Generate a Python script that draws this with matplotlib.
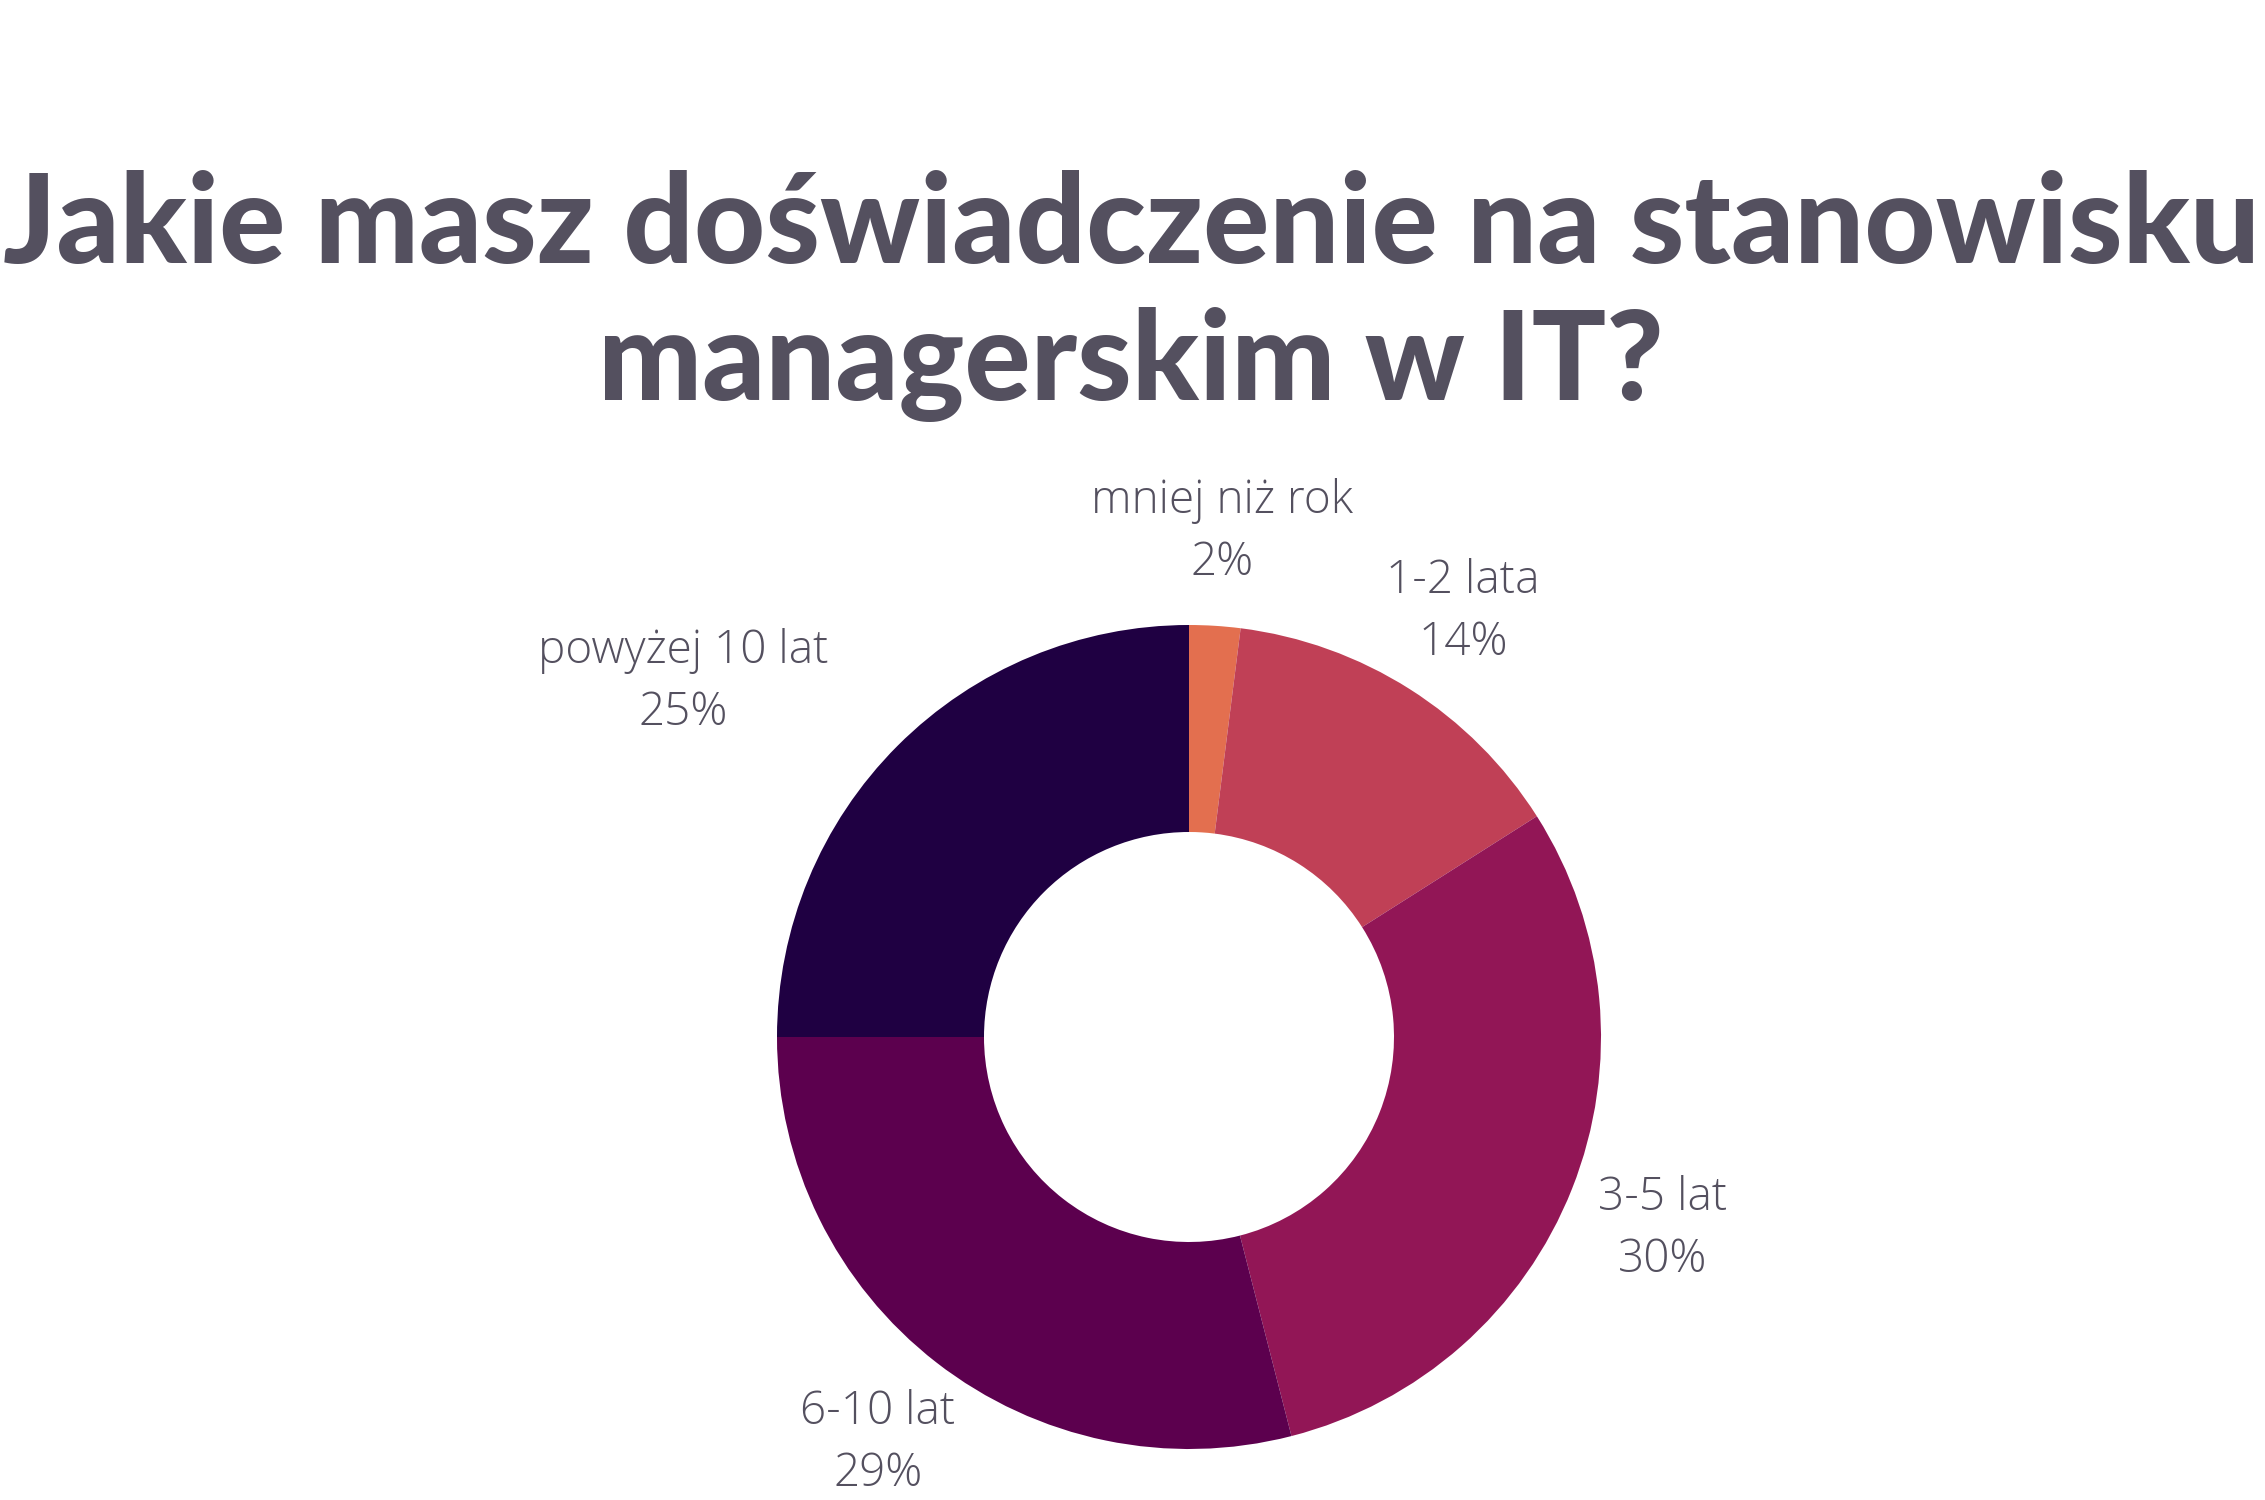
"""Donut chart: management experience in IT."""

import matplotlib.pyplot as plt

W, H = 2265, 1500

labels = ["mniej niż rok", "1-2 lata", "3-5 lat", "6-10 lat", "powyżej 10 lat"]
shares = [2, 14, 30, 29, 25]
colors = ["#E36F4F", "#C04056", "#921656", "#5C004E", "#1F0042"]

# label anchor points in pixels (x, y from top)
label_pos = [(1222, 532), (1463, 612), (1663, 1229), (878, 1443), (683, 682)]

title_lines = ["Jakie masz doświadczenie na stanowisku", "managerskim w IT?"]
title_baselines = [263, 400]
text_color = "#54505F"

fig = plt.figure(figsize=(W / 100, H / 100), dpi=100)
ax = fig.add_axes([0, 0, 1, 1])

ax.pie(
    shares,
    colors=colors,
    startangle=90,
    counterclock=False,
    center=(1189, H - 1037),
    radius=412,
    wedgeprops=dict(width=207, linewidth=0),
    frame=True,
)
ax.set_xlim(0, W)
ax.set_ylim(0, H)
ax.set_aspect("equal")
ax.axis("off")

for (x, y), lab, val in zip(label_pos, labels, shares):
    ax.text(x, H - y, f"{lab}\n{val}%", ha="center", va="center",
            fontsize=33, family="Open Sans", weight="light",
            color=text_color, linespacing=1.45)

for line, base in zip(title_lines, title_baselines):
    fig.text(1131 / W, 1 - base / H, line, ha="center", va="baseline",
             fontsize=89, family="Lato", weight="black", color=text_color)

fig.savefig("out.png", dpi=100, facecolor="white")
